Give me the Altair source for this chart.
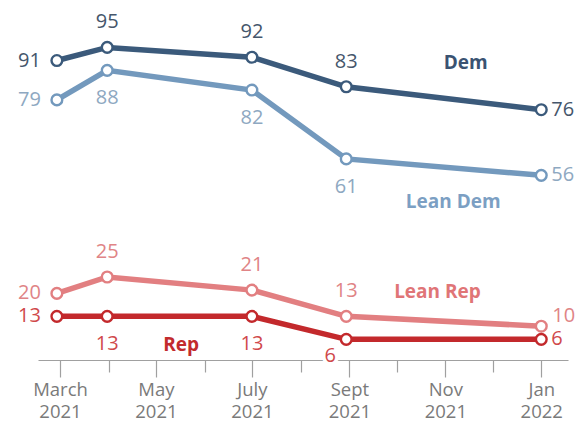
import altair as alt
import pandas as pd

# ---- data ----
series = ["Dem", "Lean Dem", "Lean Rep", "Rep"]
dates = ["2021-02-27T00:00:00", "2021-03-31T00:00:00", "2021-07-01T00:00:00",
         "2021-08-30T00:00:00", "2022-01-01T00:00:00"]
dem = [91, 95, 92, 83, 76]
lean_dem = [79, 88, 82, 61, 56]
lean_rep = [20, 25, 21, 13, 10]
rep = [13, 13, 13, 6, 6]

month_names = ["Jan", "Feb", "March", "Apr", "May", "June", "July", "Aug",
               "Sept", "Oct", "Nov", "Dec"]

# series-name annotations (anchor in data space)
name_dates = ["2021-11-14T00:00:00", "2021-11-06T00:00:00",
              "2021-10-27T00:00:00", "2021-05-17T00:00:00"]
name_values = [90.2, 48.0, 20.5, 4.3]

# ---- styles ----
line_colors = ["#3b5a7b", "#7399bd", "#e27f81", "#c3292c"]
number_colors = ["#45566b", "#8ea8c1", "#e08486", "#d0494b"]
name_colors = ["#3a5372", "#7c9fc3", "#e07577", "#c22b2d"]
FONT = "Open Sans"

# label placement per point
placements = {
    "Dem": ["L", "A", "A", "A", "R"],
    "Lean Dem": ["L", "B", "B", "B", "R"],
    "Lean Rep": ["L", "A", "A", "A", "RU"],
    "Rep": ["L", "B", "B", "BL", "R"],
}
place_style = {
    "L": dict(dx=-16, dy=0, align="right"),
    "R": dict(dx=10, dy=0, align="left"),
    "RU": dict(dx=11, dy=-10, align="left"),
    "A": dict(dx=0, dy=-25, align="center"),
    "B": dict(dx=0, dy=28, align="center"),
    "BL": dict(dx=-16, dy=17, align="center"),
}

values_by_series = dict(zip(series, [dem, lean_dem, lean_rep, rep]))
rows = []
for s in series:
    for i, d in enumerate(dates):
        v = values_by_series[s][i]
        rows.append({"series": s, "date": d, "value": v, "label": str(v),
                     "place": placements[s][i]})
df = pd.DataFrame(rows)
df_names = pd.DataFrame({"series": series, "date": name_dates, "value": name_values})

x_scale = alt.Scale(domain=[alt.DateTime(year=2021, month=2, date=15),
                            alt.DateTime(year=2022, month=1, date=18)])
y_scale = alt.Scale(domain=[0, 100])

tick_values = [alt.DateTime(year=2021, month=m, date=1) for m in range(3, 13)] + \
              [alt.DateTime(year=2022, month=1, date=1)]
names_js = "[" + ",".join("'%s'" % n for n in month_names) + "]"
label_expr = ("month(datum.value) % 2 == 0 ? [" + names_js +
              "[month(datum.value)], '' + year(datum.value)] : ''")

x_axis = alt.Axis(
    values=tick_values, labelExpr=label_expr, title=None, grid=False,
    tickSize={"condition": {"test": "month(datum.value) % 2 == 0", "value": 17}, "value": 12},
    domainColor="#a0a0a0", tickColor="#a0a0a0", tickWidth=1.2, domainWidth=1.2,
    labelColor="#7a7a7a", labelFont=FONT, labelFontSize=18.5, labelLineHeight=22,
    labelPadding=3, offset=1, labelOverlap=False, labelFlush=False,
)

X = alt.X("date:T", scale=x_scale, axis=x_axis)
Y = alt.Y("value:Q", scale=y_scale, axis=None)

base = alt.Chart(df)
line_color = alt.Color("series:N", scale=alt.Scale(domain=series, range=line_colors), legend=None)

lines = base.mark_line(strokeWidth=5.5).encode(x=X, y=Y, color=line_color, detail="series:N")
points = base.mark_point(shape="circle", fill="white", fillOpacity=1, opacity=1,
                         size=115, strokeWidth=2.4).encode(x=X, y=Y, color=line_color)

layers = [lines, points]
num_color = alt.Color("series:N", scale=alt.Scale(domain=series, range=number_colors), legend=None)
for p, st in place_style.items():
    if p == "BL":
        halo = base.transform_filter(alt.datum.place == p).mark_text(
            font=FONT, fontSize=20, baseline="middle", stroke="white", strokeWidth=7,
            strokeJoin="round", fill="white", **st).encode(x=X, y=Y, text="label:N")
        layers.append(halo)
    txt = base.transform_filter(alt.datum.place == p).mark_text(
        font=FONT, fontSize=20, baseline="middle", **st).encode(
        x=X, y=Y, text="label:N", color=num_color)
    layers.append(txt)

names = alt.Chart(df_names).mark_text(font=FONT, fontSize=19, fontWeight="bold",
                                      baseline="middle", align="center").encode(
    x=X, y=Y, text="series:N",
    color=alt.Color("series:N", scale=alt.Scale(domain=series, range=name_colors), legend=None))
layers.append(names)

chart = alt.layer(*layers).resolve_scale(color="independent").properties(
    width=530, height=328,
    padding={"left": 30, "top": 23, "right": 11, "bottom": 63},
    autosize=alt.AutoSizeParams(type="none"),
).configure_view(stroke=None)

chart.save("out.html", embed_options={"renderer": "svg", "actions": False})
